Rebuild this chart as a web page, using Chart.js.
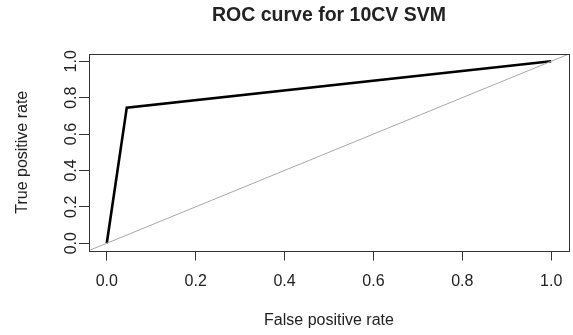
<!DOCTYPE html>
<html>
<head>
<meta charset="utf-8">
<script src="https://cdn.jsdelivr.net/npm/chart.js@4.4.1/dist/chart.umd.min.js"></script>
<style>
  html, body { margin: 0; padding: 0; background: #fff; overflow: hidden; }
  #wrap { width: 574px; height: 335px; }
</style>
</head>
<body>
<div id="wrap"><canvas id="roc"></canvas></div>
<script>
// ROC curve points (false positive rate, true positive rate)
const fpr = [0, 0.045, 1];
const tpr = [0, 0.745, 1];

// axis ticks and limits (R style: 4% padding around 0..1)
const tickValues = [0, 0.2, 0.4, 0.6, 0.8, 1.0];
const AXIS_MIN = -0.04;
const AXIS_MAX = 1.04;

// reference diagonal y = x across the whole plot
const diagX = [AXIS_MIN, AXIS_MAX];
const diagY = [AXIS_MIN, AXIS_MAX];

const mainTitle = "ROC curve for 10CV SVM";

const TEXT = "#222";
const FONT = "'Liberation Sans', Arial, sans-serif";

const toPoints = (xs, ys) => xs.map((x, i) => ({ x, y: ys[i] }));

// caja alrededor del área del gráfico + título centrado sobre ella
const boxPlugin = {
    id: "box",
    afterDraw(chart) {
        const { ctx, chartArea: a } = chart;
        ctx.save();
        ctx.strokeStyle = "#333";
        ctx.lineWidth = 1;
        ctx.strokeRect(Math.round(a.left) + 0.5, Math.round(a.top) + 0.5,
                       Math.round(a.right - a.left), Math.round(a.bottom - a.top));

        ctx.fillStyle = TEXT;
        ctx.font = "bold 19.5px " + FONT;
        ctx.textAlign = "center";
        ctx.textBaseline = "middle";
        ctx.fillText(mainTitle, (a.left + a.right) / 2, 15.5);
        ctx.restore();
    }
};

const fixedTicks = scale => {
    scale.ticks = tickValues.map(v => ({ value: v }));
};

new Chart(document.getElementById("roc"), {
    type: "scatter",
    data: {
        datasets: [
            {
                label: "diagonal",
                data: toPoints(diagX, diagY),
                showLine: true,
                borderColor: "#a8a8a8",
                borderWidth: 1,
                pointRadius: 0
            },
            {
                label: "ROC",
                data: toPoints(fpr, tpr),
                showLine: true,
                borderColor: "#000",
                borderWidth: 2.6,
                pointRadius: 0
            }
        ]
    },
    options: {
        responsive: true,
        maintainAspectRatio: false,
        animation: false,
        layout: { padding: { top: 54, left: 0, right: 0, bottom: 0 } },
        plugins: {
            legend: { display: false },
            tooltip: { enabled: false },
            title: { display: false }
        },
        scales: {
            x: {
                type: "linear",
                min: AXIS_MIN,
                max: AXIS_MAX,
                afterBuildTicks: fixedTicks,
                afterFit: s => { s.height = 84.5; },
                border: { display: false },
                grid: { drawOnChartArea: false, drawTicks: true, tickLength: 10, color: "#333" },
                ticks: {
                    autoSkip: false,
                    maxRotation: 0,
                    padding: 11.7,
                    color: TEXT,
                    font: { family: FONT, size: 16 },
                    callback: v => v.toFixed(1)
                },
                title: {
                    display: true,
                    text: "False positive rate",
                    color: TEXT,
                    font: { family: FONT, size: 16 },
                    padding: { top: 0, bottom: 4.4 }
                }
            },
            y: {
                type: "linear",
                min: AXIS_MIN,
                max: AXIS_MAX,
                afterBuildTicks: fixedTicks,
                afterFit: s => { s.width = 89; },
                border: { display: false },
                grid: { drawOnChartArea: false, drawTicks: true, tickLength: 10, color: "#333" },
                ticks: {
                    autoSkip: false,
                    minRotation: 90,
                    maxRotation: 90,
                    crossAlign: "center",
                    padding: -3.9,
                    color: TEXT,
                    font: { family: FONT, size: 16 },
                    callback: v => v.toFixed(1)
                },
                title: {
                    display: true,
                    text: "True positive rate",
                    color: TEXT,
                    font: { family: FONT, size: 16 },
                    padding: { top: 12.9, bottom: 0 }
                }
            }
        }
    },
    plugins: [boxPlugin]
});
</script>
</body>
</html>
